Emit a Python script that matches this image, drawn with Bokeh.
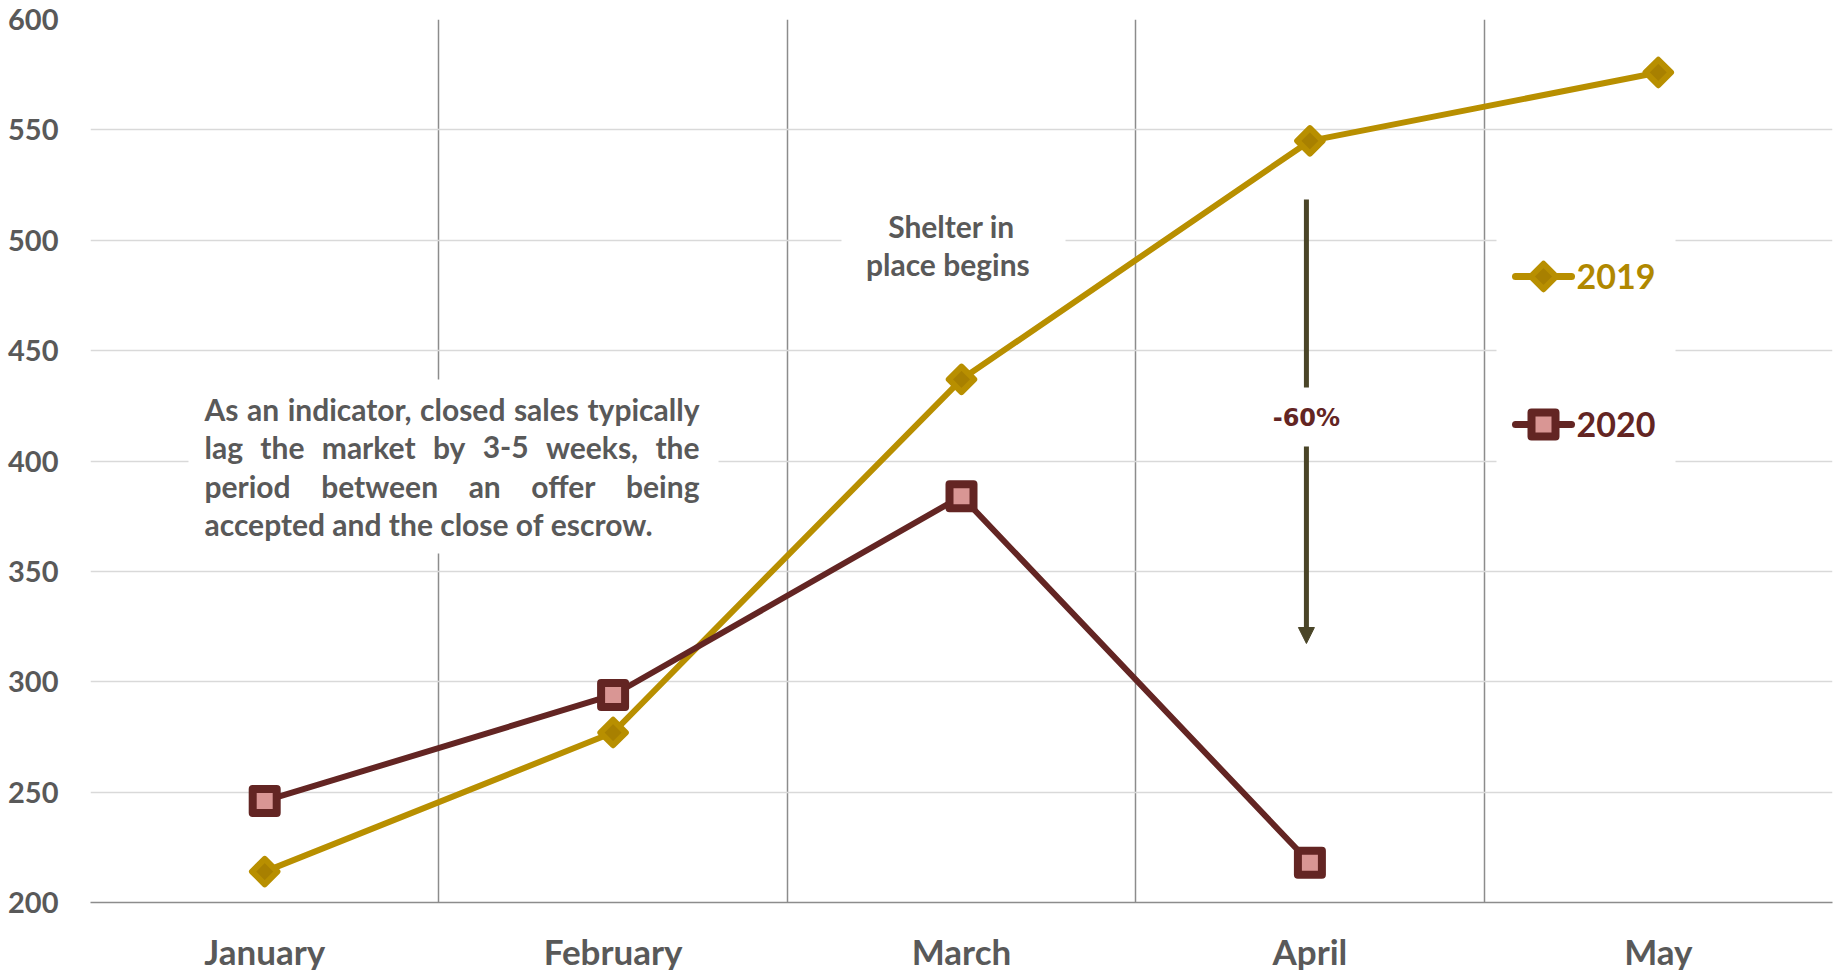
import glob
import os
import subprocess

import numpy as np
from bokeh.core.properties import value
from bokeh.embed import file_html
from bokeh.models import Arrow, ColumnDataSource, FixedTicker, NormalHead, Range1d
from bokeh.plotting import figure
from bokeh.resources import INLINE

# ---- data -------------------------------------------------------------
months = ["January", "February", "March", "April", "May"]
sales_2019 = [214, 277, 437, 545, 576]
sales_2020 = [246, 294, 384, 218]
y_ticks = [200, 250, 300, 350, 400, 450, 500, 550, 600]
series_names = ["2019", "2020"]
drop_label = "-60%"
note_lines = [
    "As an indicator, closed sales typically",
    "lag the market by 3-5 weeks, the",
    "period between an offer being",
    "accepted and the close of escrow.",
]
shelter_lines = ["Shelter in", "place  begins"]

# ---- styling ------------------------------------------------------------
GOLD = "#B88F00"
GOLD_DARK = "#A88000"
GOLD_TEXT = "#B08800"
MAROON = "#632523"
PINK = "#D99694"
GREY_TEXT = "#595959"
ARROW = "#4A4528"
FONT = "Lato"

FRAME_W, FRAME_H = 1742, 883
LEFT, TOP = 90, 19
Y0, Y1 = 200, 600
N = len(months)
CAT_W = FRAME_W / N


def dx(px):
    """canvas x pixel -> data x"""
    return (px - LEFT) / CAT_W


def dy(py):
    """canvas y pixel -> data y"""
    return Y1 - (py - TOP) * (Y1 - Y0) / FRAME_H


def find_font_file():
    try:
        out = subprocess.run(["fc-match", "-f", "%{file}", "Lato:bold"],
                             capture_output=True, text=True, timeout=5).stdout.strip()
        if out and os.path.exists(out) and "lato" in out.lower():
            return out
    except Exception:
        pass
    for pat in ["/usr/share/fonts/**/Lato-Bold.ttf", "/usr/share/fonts/**/Lato*Bold*.ttf",
                "/usr/local/share/fonts/**/Lato*Bold*.ttf"]:
        hits = glob.glob(pat, recursive=True)
        if hits:
            return hits[0]
    return None


FONT_FILE = find_font_file()


def text_width(s, size):
    if FONT_FILE:
        try:
            from PIL import ImageFont
            return ImageFont.truetype(FONT_FILE, size).getlength(s)
        except Exception:
            pass
    return 0.5 * size * len(s)


x19 = [i + 0.5 for i in range(len(sales_2019))]
x20 = [i + 0.5 for i in range(len(sales_2020))]

p = figure(frame_width=FRAME_W, frame_height=FRAME_H,
           min_border_left=LEFT, min_border_right=1839 - LEFT - FRAME_W,
           min_border_top=TOP, min_border_bottom=970 - TOP - FRAME_H,
           x_range=Range1d(0, N), y_range=Range1d(Y0, Y1),
           output_backend="svg", toolbar_location=None,
           background_fill_color="white", border_fill_color="white",
           outline_line_color=None)

# grid: light horizontal rules, darker month separators
p.ygrid.ticker = FixedTicker(ticks=y_ticks)
p.ygrid.grid_line_color = "#D9D9D9"
p.ygrid.grid_line_width = 1.5
p.xgrid.ticker = FixedTicker(ticks=list(range(N + 1)))
p.xgrid.grid_line_color = "#8C8C8C"
p.xgrid.grid_line_width = 1.5

p.xaxis.ticker = FixedTicker(ticks=[i + 0.5 for i in range(N)])
p.xaxis.major_label_overrides = {i + 0.5: m for i, m in enumerate(months)}
p.xaxis.axis_line_color = "#8C8C8C"
p.xaxis.axis_line_width = 1.5
p.yaxis.ticker = FixedTicker(ticks=y_ticks)
p.yaxis.axis_line_color = None
for ax in (p.xaxis, p.yaxis):
    ax.major_tick_line_color = None
    ax.minor_tick_line_color = None
    ax.major_label_text_font = FONT
    ax.major_label_text_font_style = "bold"
    ax.major_label_text_color = GREY_TEXT
p.xaxis.major_label_text_font_size = "35px"
p.xaxis.major_label_standoff = 21
p.yaxis.major_label_text_font_size = "29px"
p.yaxis.major_label_standoff = 26

# white panels behind the text blocks
note_box = dict(left=[dx(188)], right=[dx(718)], top=[dy(379)], bottom=[dy(553)])
shelter_box = dict(left=[dx(841)], right=[dx(1065)], top=[dy(203)], bottom=[dy(287)])
legend_box = dict(left=[dx(1496)], right=[dx(1675)], top=[dy(205)], bottom=[dy(505)])
for box in (note_box, shelter_box, legend_box):
    p.quad(fill_color="white", line_color=None, **box)

# series
DIAMOND = dict(marker="square", angle=np.pi / 4, size=18,
               fill_color=GOLD_DARK, line_color=GOLD, line_width=6, line_join="round")
SQUARE = dict(marker="square", size=24,
              fill_color=PINK, line_color=MAROON, line_width=8, line_join="round")
p.line(x19, sales_2019, line_color=GOLD, line_width=6)
p.scatter(x19, sales_2019, **DIAMOND)
p.line(x20, sales_2020, line_color=MAROON, line_width=6)
p.scatter(x20, sales_2020, **SQUARE)

# legend drawn inside the white panel
leg_y = [dy(276), dy(424)]
p.segment(x0=[dx(1515)] * 2, x1=[dx(1571)] * 2, y0=leg_y, y1=leg_y,
          line_color=[GOLD, MAROON], line_width=7, line_cap="round")
p.scatter([dx(1543)], [leg_y[0]], **DIAMOND)
p.scatter([dx(1543)], [leg_y[1]], **SQUARE)
p.text(x=[dx(1576)] * 2, y=leg_y, text=series_names, text_color=[GOLD_TEXT, MAROON],
       text_font=value(FONT), text_font_style="bold", text_font_size="34px",
       text_align="left", text_baseline="middle")

# decline arrow April 2019 -> April 2020
arrow_x = x19[3] - 0.01
p.segment(x0=[arrow_x], x1=[arrow_x], y0=[dy(199)], y1=[dy(387)],
          line_color=ARROW, line_width=5)
p.add_layout(Arrow(x_start=arrow_x, y_start=dy(446), x_end=arrow_x, y_end=dy(643),
                   line_color=ARROW, line_width=5,
                   end=NormalHead(size=16, fill_color=ARROW, line_color=ARROW, line_width=1)))
p.text(x=[arrow_x], y=[dy(417)], text=[drop_label], text_color=MAROON,
       text_font=value("DejaVu Sans"), text_font_style="bold", text_font_size="24px",
       text_align="center", text_baseline="middle")

# shelter-in-place note
p.text(x=[dx(951)] * 2, y=[dy(225), dy(263)], text=shelter_lines, text_color=GREY_TEXT,
       text_font=value(FONT), text_font_style="bold", text_font_size="30px",
       text_align="center", text_baseline="middle")

# justified explanatory paragraph
note_left, note_right = 204, 699
fs = 26
w1 = text_width(note_lines[0], fs)
if FONT_FILE and w1 > 0:
    fs = max(22, min(30, round(fs * (note_right - note_left) / w1, 1)))
wx, wy, words = [], [], []
line_y = [408, 446.5, 485, 523]
for li, line in enumerate(note_lines):
    toks = line.split(" ")
    if li == len(note_lines) - 1 or len(toks) == 1:
        gap = text_width(" ", fs)
    else:
        total = sum(text_width(t, fs) for t in toks)
        gap = (note_right - note_left - total) / (len(toks) - 1)
    cur = note_left
    for t in toks:
        wx.append(dx(cur))
        wy.append(dy(line_y[li]))
        words.append(t)
        cur += text_width(t, fs) + gap
p.text(x="x", y="y", text="t", source=ColumnDataSource(dict(x=wx, y=wy, t=words)),
       text_color=GREY_TEXT, text_font=value(FONT), text_font_style="bold",
       text_font_size=f"{fs}px", text_align="left", text_baseline="middle")

with open("out.html", "w") as f:
    f.write(file_html(p, INLINE))
